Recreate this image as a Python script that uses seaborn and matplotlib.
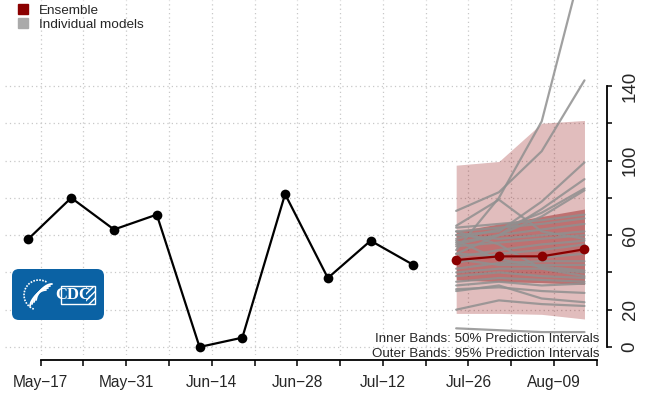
import numpy as np
import pandas as pd
import matplotlib
matplotlib.use("Agg")
import matplotlib.pyplot as plt
import matplotlib.dates as mdates
from matplotlib.patches import Patch, FancyBboxPatch, Rectangle, Arc
import seaborn as sns

# observed weekly counts
obs_dates = ["2021-05-15", "2021-05-22", "2021-05-29", "2021-06-05", "2021-06-12",
             "2021-06-19", "2021-06-26", "2021-07-03", "2021-07-10", "2021-07-17"]
obs_values = [58, 80, 63, 71, 0, 5, 82, 37, 57, 44]

# ensemble forecast and prediction intervals
fc_dates = ["2021-07-24", "2021-07-31", "2021-08-07", "2021-08-14"]
ens_values = [46.6, 48.6, 48.6, 52.4]
lower95 = [18, 18, 17.5, 15]
upper95 = [97.5, 99.5, 120, 121.5]
lower50 = [36, 35, 34.5, 33.5]
upper50 = [62, 66, 70, 74]

# individual model forecasts (one row per model)
model_values = [
    [73, 83, 105, 143],
    [52, 80, 121, 210],
    [65, 79, 62, 58],
    [60, 62, 78, 99],
    [55, 60, 74, 90],
    [58, 63, 72, 85],
    [50, 60, 70, 84],
    [64, 66, 68, 71],
    [62, 64, 66, 69],
    [56, 60, 63, 66],
    [60, 58, 60, 62],
    [54, 56, 58, 60],
    [48, 52, 55, 57],
    [45, 50, 52, 55],
    [50, 49, 48, 50],
    [42, 45, 46, 46],
    [47, 44, 44, 44],
    [40, 42, 42, 40],
    [38, 40, 38, 37],
    [35, 37, 36, 35],
    [33, 35, 33, 34],
    [31, 32, 30, 29],
    [30, 33, 26, 24],
    [20, 25, 23, 22],
    [10, 9, 8, 8],
    [62, 55, 42, 38],
    [57, 47, 43, 41],
]

tick_labels = ["May\u221217", "May\u221231", "Jun\u221214", "Jun\u221228",
               "Jul\u221212", "Jul\u221226", "Aug\u221209"]

df_obs = pd.DataFrame({"date": pd.to_datetime(obs_dates), "value": obs_values})
df_ens = pd.DataFrame({"date": pd.to_datetime(fc_dates), "value": ens_values})
df_mod = pd.DataFrame([
    {"model": i, "date": pd.Timestamp(d), "value": v}
    for i, row in enumerate(model_values) for d, v in zip(fc_dates, row)
])

sns.set_style("white")
plt.rcParams["font.family"] = ["Liberation Sans", "DejaVu Sans"]

W, H = 647, 395
fig = plt.figure(figsize=(W / 100, H / 100), dpi=100)
ax = fig.add_axes([5 / W, 40 / H, 595 / W, 355 / H])

dark = "#8b0000"
start = pd.Timestamp("2021-05-17")

# model lines first, bands over them
sns.lineplot(data=df_mod, x="date", y="value", units="model", estimator=None,
             color="#909090", alpha=0.85, lw=1.6, ax=ax, legend=False)
fc = pd.to_datetime(fc_dates)
ax.fill_between(fc, lower95, upper95, color=dark, alpha=0.26, lw=0)
ax.fill_between(fc, lower50, upper50, color=dark, alpha=0.4, lw=0)

sns.lineplot(data=df_obs, x="date", y="value", color="black", lw=1.6,
             marker="o", markersize=7, markeredgewidth=0, ax=ax)
sns.lineplot(data=df_ens, x="date", y="value", color=dark, lw=1.6,
             marker="o", markersize=7, markeredgewidth=0, ax=ax)

ax.set_xlim(start - pd.Timedelta(days=5.84), start + pd.Timedelta(days=91.54))
ax.set_ylim(-4.3, 186.1)

# axes styling (R-like detached axes)
for s in ["top", "left"]:
    ax.spines[s].set_visible(False)
ax.spines["bottom"].set_position(("outward", 3.6))
ax.spines["right"].set_position(("outward", 5))
ax.spines["bottom"].set_bounds(mdates.date2num(start), mdates.date2num(start + pd.Timedelta(days=91)))
ax.spines["right"].set_bounds(0, 140)
for s in ["bottom", "right"]:
    ax.spines[s].set_linewidth(1.3)
    ax.spines[s].set_color("black")

xt = [start + pd.Timedelta(weeks=k) for k in range(14)]
ax.set_xticks(xt)
ax.set_xticklabels([tick_labels[k // 2] if k % 2 == 0 else "" for k in range(14)])
ax.yaxis.tick_right()
ax.set_yticks(range(0, 141, 20))
ax.set_yticklabels(["0", "20", "", "60", "", "100", "", "140"])
ax.tick_params(axis="x", direction="out", length=4.5, width=1.3, pad=6, labelsize=11.2, bottom=True)
ax.tick_params(axis="y", direction="out", length=3.6, width=1.3, pad=7, labelsize=13.5,
               right=True, left=False, labelrotation=90)
for lab in ax.get_yticklabels():
    lab.set_va("center")
ax.set_xlabel("")
ax.set_ylabel("")
ax.grid(True, color="#c8c8c8", ls=(0, (1, 2.5)), lw=0.9)

# legend
handles = [Patch(color=dark, label="Ensemble"), Patch(color="#aaaaaa", label="Individual models")]
fig.legend(handles=handles, loc="upper left", bbox_to_anchor=(10 / W, 1 + 4 / H),
           frameon=False, fontsize=9.7, handlelength=0.7, handleheight=0.7,
           handletextpad=0.85, labelspacing=0.12, borderpad=0.1)

fig.text(599 / W, 1 - 339 / H, "Inner Bands: 50% Prediction Intervals",
         ha="right", va="center", fontsize=9.6)
fig.text(599 / W, 1 - 354 / H, "Outer Bands: 95% Prediction Intervals",
         ha="right", va="center", fontsize=9.6)

# CDC logo (rough drawing)
lg = fig.add_axes([12 / W, 1 - 320 / H, 92 / W, 51 / H])
lg.set_xlim(0, 92)
lg.set_ylim(0, 51)
lg.axis("off")
lg.add_patch(FancyBboxPatch((0, 0), 92, 51, boxstyle="round,pad=0,rounding_size=7",
                            fc="#0b62a4", ec="none"))
lg.add_patch(Arc((27, 25), 30, 30, theta1=60, theta2=250, color="white", lw=1.2, ls=(0, (1, 0.8))))
for k in range(4):
    t = np.linspace(0, 1, 20)
    lg.plot(18 + 16 * t + 2 * k, 14 + 20 * t ** 0.6 + 2 * k - 4 * t ** 3, color="white", lw=1.3)
lg.add_patch(Rectangle((49.3, 15.7), 34, 18.6, fc="none", ec="white", lw=1))
lg.add_patch(Rectangle((74, 15.7), 9.3, 18.6, fc="none", ec="white", lw=0, hatch="/////"))
lg.text(61.5, 25, "CDC", color="white", fontsize=12, fontweight="bold", ha="center", va="center",
        family="Liberation Serif")

fig.savefig("out.png", dpi=100)
